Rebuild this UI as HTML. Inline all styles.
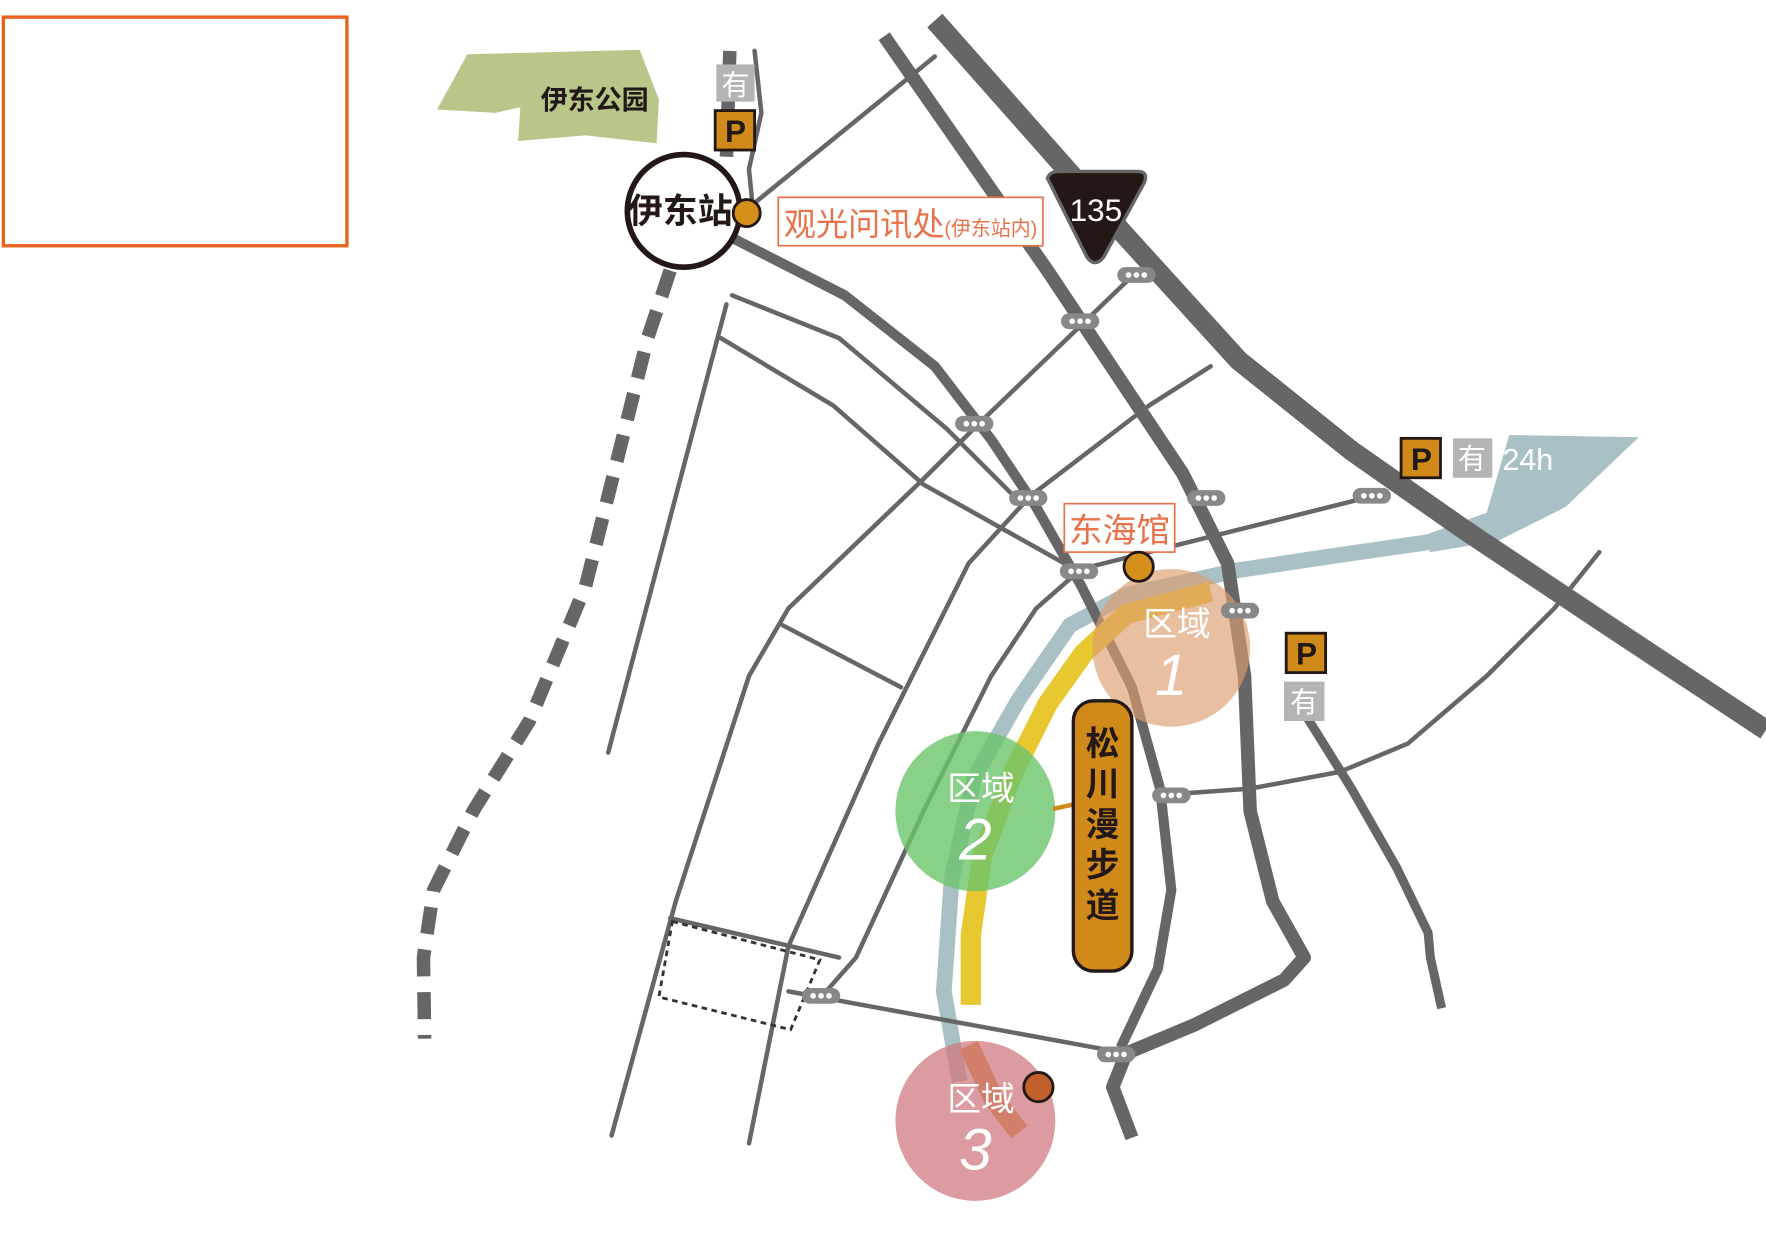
<!DOCTYPE html>
<html><head><meta charset="utf-8"><style>
html,body{margin:0;padding:0;background:#fff;}
svg{display:block;}
text{font-family:"Liberation Sans","Noto Sans CJK SC",sans-serif;}
</style></head><body>
<svg width="1766" height="1245" viewBox="0 0 1568 1105" xmlns="http://www.w3.org/2000/svg">
<rect x="3" y="15" width="305" height="203" fill="none" stroke="#e8641e" stroke-width="3"/>
<path d="M388,97 L415,48 L568,44 L585,88 L583,127 L520,120 L460,125 L462,95 L440,100 Z" fill="#b8c68a"/>
<text x="480" y="97" font-size="24" font-weight="bold" fill="#231815">伊东公园</text>

<!-- river -->
<path d="M1290,478 L1180,494 L1100,506 L1000,528 L950,555 L905,620 L865,690 L845,780 L838,880 L852,960" fill="none" stroke="#a9c0c5" stroke-width="14"/>
<path d="M1340,386 L1455,388 L1390,450 L1330,480 L1270,490 L1262,476 L1320,455 Z" fill="#a9c0c5"/>

<g fill="none" stroke="#666" stroke-linecap="round" stroke-linejoin="round">
<g stroke-width="4">
<path d="M670,45 L676,100 L665,150 L668,180"/>
<path d="M670,180 L830,50"/>
<path d="M540,668 L645,270"/>
<path d="M650,262 L745,300 L840,380 L900,440"/>
<path d="M640,300 L740,360 L820,430 L945,500"/>
<path d="M1000,250 L870,375 L820,425 L700,540 L665,600 L600,800 L543,1008"/>
<path d="M1075,325 L1020,360 L915,440 L860,500 L830,560 L780,660 L700,840 L665,1015"/>
<path d="M1220,440 L1100,470 L960,505 L920,540 L880,600 L820,720 L760,850 L730,884"/>
<path d="M695,555 L800,610"/>
<path d="M595,815 L745,850"/>
<path d="M700,880 L1000,935"/>
<path d="M1040,705 L1110,700 L1190,685 L1250,660 L1320,600 L1380,540 L1420,490"/>
</g>
<path d="M1150,620 L1200,700 L1240,770 L1268,828 L1270,850 L1280,895" stroke-width="8" stroke-linecap="butt"/>
<path d="M652,212 L750,262 L830,325 L880,390 L920,450 L960,520 L1005,610 L1030,700 L1040,790 L1028,860 L995,930" stroke-width="9" stroke-linecap="butt"/>
<path d="M785,32 L930,240 L1050,420 L1090,500 L1105,600 L1110,720 L1130,800 L1158,850 L1140,870 L1060,910 L1000,935 L988,965 L1005,1010" stroke-width="12" stroke-linecap="butt"/>
<path d="M830,18 L1000,210 L1100,320 L1200,400 L1300,470 L1420,550 L1568,648" stroke-width="18" stroke-linecap="butt"/>
<path d="M648,45 L645,140" stroke-width="12" stroke-dasharray="22 14" stroke-linecap="butt"/>
<path d="M595,240 L575,300 L520,520 L470,640 L420,720 L385,790 L376,850 L377,922" stroke-width="12" stroke-dasharray="24 14" stroke-linecap="butt"/>
</g>
<path d="M597,818 L728,852 L702,914 L585,885 Z" fill="none" stroke="#333" stroke-width="2.5" stroke-dasharray="5 4"/>

<path d="M1075,525 L1000,545 L962,580 L930,625 L900,685 L872,760 L862,830 L862,892" fill="none" stroke="#e8c830" stroke-width="18"/>
<path d="M860,928 L882,975 L905,1005" fill="none" stroke="#d48a2c" stroke-width="18"/>

<circle cx="1040" cy="575" r="70" fill="#dc9c6e" opacity="0.65"/>
<circle cx="866" cy="720" r="71" fill="#6cc46c" opacity="0.8"/>
<circle cx="866" cy="995" r="71" fill="#d07a80" opacity="0.75"/>
<text x="1045" y="564" font-size="30" fill="#fff" text-anchor="middle">区域</text>
<text x="1040" y="617" font-size="52" fill="#fff" text-anchor="middle" font-style="italic">1</text>
<text x="871" y="710" font-size="30" fill="#fff" text-anchor="middle">区域</text>
<text x="866" y="763" font-size="52" fill="#fff" text-anchor="middle" font-style="italic">2</text>
<text x="871" y="986" font-size="30" fill="#fff" text-anchor="middle">区域</text>
<text x="866" y="1038" font-size="52" fill="#fff" text-anchor="middle" font-style="italic">3</text>

<g>
<g transform="translate(1009,244)"><rect x="-17" y="-7" width="34" height="14" rx="7" fill="#888"/><g fill="#fff"><circle cx="-7" cy="0" r="2.5"/><circle cx="0" cy="0" r="2.5"/><circle cx="7" cy="0" r="2.5"/></g></g>
<g transform="translate(959,285)"><rect x="-17" y="-7" width="34" height="14" rx="7" fill="#888"/><g fill="#fff"><circle cx="-7" cy="0" r="2.5"/><circle cx="0" cy="0" r="2.5"/><circle cx="7" cy="0" r="2.5"/></g></g>
<g transform="translate(865,376)"><rect x="-17" y="-7" width="34" height="14" rx="7" fill="#888"/><g fill="#fff"><circle cx="-7" cy="0" r="2.5"/><circle cx="0" cy="0" r="2.5"/><circle cx="7" cy="0" r="2.5"/></g></g>
<g transform="translate(913,442)"><rect x="-17" y="-7" width="34" height="14" rx="7" fill="#888"/><g fill="#fff"><circle cx="-7" cy="0" r="2.5"/><circle cx="0" cy="0" r="2.5"/><circle cx="7" cy="0" r="2.5"/></g></g>
<g transform="translate(958,507)"><rect x="-17" y="-7" width="34" height="14" rx="7" fill="#888"/><g fill="#fff"><circle cx="-7" cy="0" r="2.5"/><circle cx="0" cy="0" r="2.5"/><circle cx="7" cy="0" r="2.5"/></g></g>
<g transform="translate(1071,442)"><rect x="-17" y="-7" width="34" height="14" rx="7" fill="#888"/><g fill="#fff"><circle cx="-7" cy="0" r="2.5"/><circle cx="0" cy="0" r="2.5"/><circle cx="7" cy="0" r="2.5"/></g></g>
<g transform="translate(1101,542)"><rect x="-17" y="-7" width="34" height="14" rx="7" fill="#888"/><g fill="#fff"><circle cx="-7" cy="0" r="2.5"/><circle cx="0" cy="0" r="2.5"/><circle cx="7" cy="0" r="2.5"/></g></g>
<g transform="translate(1218,440)"><rect x="-17" y="-7" width="34" height="14" rx="7" fill="#888"/><g fill="#fff"><circle cx="-7" cy="0" r="2.5"/><circle cx="0" cy="0" r="2.5"/><circle cx="7" cy="0" r="2.5"/></g></g>
<g transform="translate(1040,706)"><rect x="-17" y="-7" width="34" height="14" rx="7" fill="#888"/><g fill="#fff"><circle cx="-7" cy="0" r="2.5"/><circle cx="0" cy="0" r="2.5"/><circle cx="7" cy="0" r="2.5"/></g></g>
<g transform="translate(729,884)"><rect x="-17" y="-7" width="34" height="14" rx="7" fill="#888"/><g fill="#fff"><circle cx="-7" cy="0" r="2.5"/><circle cx="0" cy="0" r="2.5"/><circle cx="7" cy="0" r="2.5"/></g></g>
<g transform="translate(991,936)"><rect x="-17" y="-7" width="34" height="14" rx="7" fill="#888"/><g fill="#fff"><circle cx="-7" cy="0" r="2.5"/><circle cx="0" cy="0" r="2.5"/><circle cx="7" cy="0" r="2.5"/></g></g>
</g>

<circle cx="607" cy="187" r="50" fill="#fff" stroke="#231815" stroke-width="5"/>
<text x="604" y="198" font-size="31" font-weight="bold" fill="#231815" text-anchor="middle">伊东站</text>
<circle cx="663" cy="189" r="12" fill="#d4901a" stroke="#231815" stroke-width="2.5"/>
<rect x="691" y="175" width="235" height="43" fill="#fff" stroke="#e8734a" stroke-width="1.5"/>
<text x="696" y="209" font-size="29" fill="#e8734a" textLength="225" lengthAdjust="spacingAndGlyphs">观光问讯处<tspan font-size="18">(伊东站内)</tspan></text>

<path d="M930,158 Q932,152 940,152 L1010,152 Q1020,152 1016,162 L980,228 Q972,238 965,228 Z" fill="#231815" stroke="#666" stroke-width="3"/>
<text x="973" y="196" font-size="28" fill="#fff" text-anchor="middle">135</text>

<rect x="945" y="447" width="98" height="43" fill="#fff" stroke="#e8734a" stroke-width="1.5"/>
<text x="994" y="481" font-size="30" fill="#e8734a" text-anchor="middle">东海馆</text>
<circle cx="1011" cy="503" r="13" fill="#d4901a" stroke="#231815" stroke-width="2.5"/>
<circle cx="922" cy="965" r="13" fill="#c0602a" stroke="#231815" stroke-width="2.5"/>

<path d="M935,718 L953,714" stroke="#d08a1a" stroke-width="4"/>
<rect x="953" y="622" width="52" height="240" rx="18" fill="#d08a1a" stroke="#231815" stroke-width="3"/>
<text font-size="30" font-weight="bold" fill="#231815" text-anchor="middle">
<tspan x="979" y="670">松</tspan><tspan x="979" y="706">川</tspan><tspan x="979" y="742">漫</tspan><tspan x="979" y="778">步</tspan><tspan x="979" y="814">道</tspan></text>

<g font-size="28" font-weight="bold" text-anchor="middle">
<rect x="636" y="57" width="34" height="33" fill="#b4b4b4"/><text x="653" y="84" fill="#fff" font-weight="normal" font-size="25">有</text>
<rect x="635" y="98" width="35" height="35" fill="#d08a1a" stroke="#231815" stroke-width="2.5"/><text x="653" y="126" fill="#231815">P</text>
<rect x="1244" y="389" width="35" height="35" fill="#d08a1a" stroke="#231815" stroke-width="2.5"/><text x="1262" y="417" fill="#231815">P</text>
<rect x="1290" y="389" width="35" height="35" fill="#b4b4b4"/><text x="1307" y="416" fill="#fff" font-weight="normal" font-size="25">有</text>
<rect x="1142" y="562" width="35" height="35" fill="#d08a1a" stroke="#231815" stroke-width="2.5"/><text x="1160" y="590" fill="#231815">P</text>
<rect x="1140" y="605" width="36" height="35" fill="#b4b4b4"/><text x="1158" y="632" fill="#fff" font-weight="normal" font-size="25">有</text>
</g>
<text x="1334" y="417" font-size="27" fill="#fff">24h</text>
</svg>
</body></html>
